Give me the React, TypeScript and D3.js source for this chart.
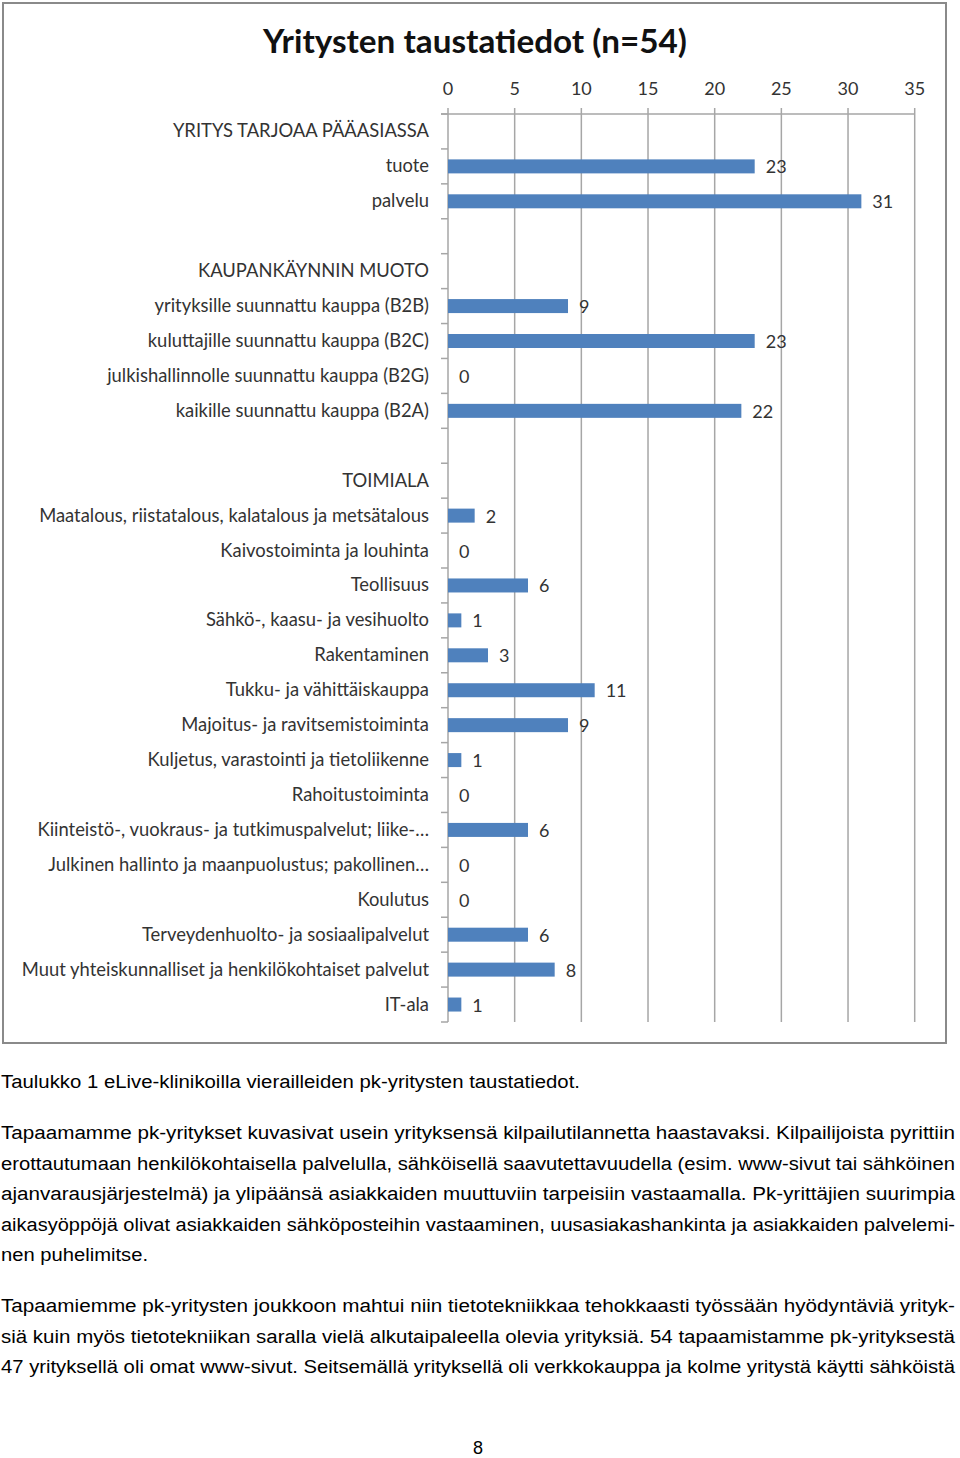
import React from "react";
import * as d3 from "d3";

const title = "Yritysten taustatiedot (n=54)";
const categories: string[] = [
  "YRITYS TARJOAA PÄÄASIASSA",
  "tuote",
  "palvelu",
  "",
  "KAUPANKÄYNNIN MUOTO",
  "yrityksille suunnattu kauppa (B2B)",
  "kuluttajille suunnattu kauppa (B2C)",
  "julkishallinnolle suunnattu kauppa (B2G)",
  "kaikille suunnattu kauppa (B2A)",
  "",
  "TOIMIALA",
  "Maatalous, riistatalous, kalatalous ja metsätalous",
  "Kaivostoiminta ja louhinta",
  "Teollisuus",
  "Sähkö-, kaasu- ja vesihuolto",
  "Rakentaminen",
  "Tukku- ja vähittäiskauppa",
  "Majoitus- ja ravitsemistoiminta",
  "Kuljetus, varastointi ja tietoliikenne",
  "Rahoitustoiminta",
  "Kiinteistö-, vuokraus- ja tutkimuspalvelut; liike-…",
  "Julkinen hallinto ja maanpuolustus; pakollinen…",
  "Koulutus",
  "Terveydenhuolto- ja sosiaalipalvelut",
  "Muut yhteiskunnalliset ja henkilökohtaiset palvelut",
  "IT-ala",
];
const values: (number | null)[] = [
  null, 23, 31, null, null, 9, 23, 0, 22, null, null,
  2, 0, 6, 1, 3, 11, 9, 1, 0, 6, 0, 0, 6, 8, 1,
];
const xTicks = [0, 5, 10, 15, 20, 25, 30, 35];

const caption = "Taulukko 1 eLive-klinikoilla vierailleiden pk-yritysten taustatiedot.";
const paragraph1 = [
  "Tapaamamme pk-yritykset kuvasivat usein yrityksensä kilpailutilannetta haastavaksi. Kilpailijoista pyrittiin",
  "erottautumaan henkilökohtaisella palvelulla, sähköisellä saavutettavuudella (esim. www-sivut tai sähköinen",
  "ajanvarausjärjestelmä) ja ylipäänsä asiakkaiden muuttuviin tarpeisiin vastaamalla. Pk-yrittäjien suurimpia",
  "aikasyöppöjä olivat asiakkaiden sähköposteihin vastaaminen, uusasiakashankinta ja asiakkaiden palvelemi-",
  "nen puhelimitse.",
];
const paragraph2 = [
  "Tapaamiemme pk-yritysten joukkoon mahtui niin tietotekniikkaa tehokkaasti työssään hyödyntäviä yrityk-",
  "siä kuin myös tietotekniikan saralla vielä alkutaipaleella olevia yrityksiä. 54 tapaamistamme pk-yrityksestä",
  "47 yrityksellä oli omat www-sivut. Seitsemällä yrityksellä oli verkkokauppa ja kolme yritystä käytti sähköistä",
];
const pageNumber = "8";

export default function App() {
  const x = d3.scaleLinear().domain([0, 35]).range([448, 914.7]);
  const y = d3
    .scaleBand<number>()
    .domain(categories.map((_, i) => i))
    .range([114, 1022])
    .paddingInner(0)
    .paddingOuter(0);
  const bw = y.bandwidth();
  const barH = 14;
  const labelFont = "Lato, 'Open Sans', sans-serif";
  const bodyFont = "'Liberation Sans Narrow', 'Liberation Sans', Arial, sans-serif";
  const boundaries = d3.range(categories.length + 1).map((i) => 114 + i * bw);

  const bodyLine = (t: string, yy: number, justify: boolean, key: string, len?: number) => (
    <text
      key={key}
      x={1}
      y={yy}
      fontFamily={bodyFont}
      fontSize={18}
      fill="#000"
      textLength={justify ? 954 : len}
      lengthAdjust="spacingAndGlyphs"
    >
      {t}
    </text>
  );

  return (
    <svg
      width={960}
      height={1458}
      style={{ position: "absolute", left: 0, top: 0, background: "#fff" }}
    >
      <rect x={0} y={0} width={960} height={1458} fill="#fff" />
      <rect x={3} y={3} width={943} height={1040} fill="#fff" stroke="#8a8a8a" strokeWidth={2} />
      <text
        x={263}
        y={53}
        fontFamily={labelFont}
        fontWeight="bold"
        fontSize={32}
        fill="#111"
        textLength={424}
        lengthAdjust="spacingAndGlyphs"
      >
        {title}
      </text>
      {/* gridlines and top axis */}
      {xTicks.map((t) => (
        <g key={t}>
          <line x1={x(t)} x2={x(t)} y1={108} y2={1022} stroke="#a6a6a6" strokeWidth={1.5} />
          <text
            x={x(t)}
            y={95}
            textAnchor="middle"
            fontFamily={labelFont}
            fontSize={18}
            fill="#333"
          >
            {t}
          </text>
        </g>
      ))}
      <line x1={441} x2={x(35)} y1={114} y2={114} stroke="#a6a6a6" strokeWidth={1.5} />
      {boundaries.map((b, i) => (
        <line key={"tk" + i} x1={441} x2={448} y1={b} y2={b} stroke="#a6a6a6" strokeWidth={1.5} />
      ))}
      {/* bars */}
      {values.map((v, i) => {
        const cy = (y(i) as number) + bw / 2;
        return (
          <g key={"b" + i}>
            <text
              x={429}
              y={cy + 6}
              textAnchor="end"
              fontFamily={labelFont}
              fontSize={18.4}
              fill="#333"
            >
              {categories[i]}
            </text>
            {v !== null && v > 0 && (
              <rect
                x={x(0)}
                y={cy - barH / 2}
                width={x(v) - x(0)}
                height={barH}
                fill="#4f81bd"
              />
            )}
            {v !== null && (
              <text
                x={x(v) + 11}
                y={cy + 7}
                fontFamily={labelFont}
                fontSize={18}
                fill="#333"
              >
                {v}
              </text>
            )}
          </g>
        );
      })}
      {/* body text */}
      {bodyLine(caption, 1088, false, "cap", 579)}
      {paragraph1.map((t, i) =>
        bodyLine(t, 1139 + i * 30.6, i < paragraph1.length - 1, "p1" + i, i === paragraph1.length - 1 ? 147 : undefined)
      )}
      {paragraph2.map((t, i) => bodyLine(t, 1312 + i * 30.6, true, "p2" + i))}
      <text x={478} y={1454} textAnchor="middle" fontFamily={bodyFont} fontSize={18} fill="#000">
        {pageNumber}
      </text>
    </svg>
  );
}
